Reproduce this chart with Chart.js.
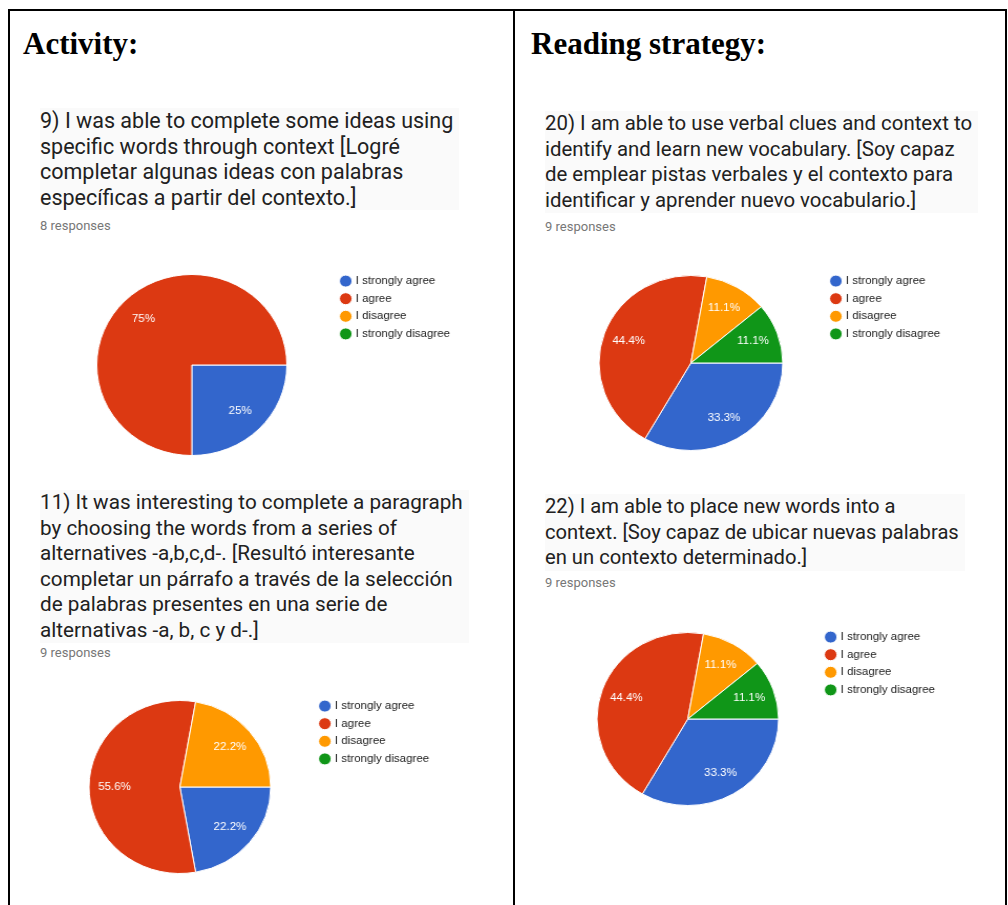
<!DOCTYPE html>
<html>
<head>
<meta charset="utf-8">
<title>Encuesta - Activity / Reading strategy</title>
<script src="https://cdn.jsdelivr.net/npm/chart.js@4"></script>
<style>
  body { margin: 0; background: #fff; }
  #page { position: relative; width: 1008px; height: 905px; overflow: hidden; font-family: Roboto, Arial, sans-serif; }
  .frame { position: absolute; left: 8px; top: 9px; width: 995px; height: 940px; border: 2px solid #000; }
  .divider { position: absolute; left: 513px; top: 9px; width: 2px; height: 920px; background: #000; }
  .col-head { position: absolute; top: 28px; font: bold 31px "Liberation Serif", "Times New Roman", serif; line-height: 31px; color: #000; white-space: nowrap; }
  .question { position: absolute; line-height: 25.5px; color: #212121; white-space: nowrap; background: #fafafa; padding-right: 6px; }
  .count { position: absolute; font-size: 13px; line-height: 15px; color: #777; }
  .chart-box { position: absolute; transform: scaleX(1.05); transform-origin: 0 0; }
  canvas { display: block; }
</style>
</head>
<body>
<div id="page">
  <div class="frame"></div>
  <div class="divider"></div>

  <div class="col-head" style="left:23px">Activity:</div>
  <div class="col-head" style="left:531px">Reading strategy:</div>

  <div class="question" style="left:40px; top:108px; font-size:21.5px">9) I was able to complete some ideas using<br>specific words through context [Logré<br>completar algunas ideas con palabras<br>específicas a partir del contexto.]</div>
  <div class="count" id="count-q9" style="left:40px; top:218px"></div>
  <div class="chart-box" id="box-q9"><canvas id="chart-q9"></canvas></div>

  <div class="question" style="left:545px; top:111px; font-size:20.4px">20) I am able to use verbal clues and context to<br>identify and learn new vocabulary. [Soy capaz<br>de emplear pistas verbales y el contexto para<br>identificar y aprender nuevo vocabulario.]</div>
  <div class="count" id="count-q20" style="left:545px; top:219px"></div>
  <div class="chart-box" id="box-q20"><canvas id="chart-q20"></canvas></div>

  <div class="question" style="left:40px; top:490px; font-size:20.7px">11) It was interesting to complete a paragraph<br>by choosing the words from a series of<br>alternatives -a,b,c,d-. [Resultó interesante<br>completar un párrafo a través de la selección<br>de palabras presentes en una serie de<br>alternativas -a, b, c y d-.]</div>
  <div class="count" id="count-q11" style="left:40px; top:645px"></div>
  <div class="chart-box" id="box-q11"><canvas id="chart-q11"></canvas></div>

  <div class="question" style="left:545px; top:494px; font-size:20.2px">22) I am able to place new words into a<br>context. [Soy capaz de ubicar nuevas palabras<br>en un contexto determinado.]</div>
  <div class="count" id="count-q22" style="left:545px; top:575px"></div>
  <div class="chart-box" id="box-q22"><canvas id="chart-q22"></canvas></div>
</div>

<script>
// answer options and how many students picked each one
const answerLabels = ['I strongly agree', 'I agree', 'I disagree', 'I strongly disagree'];
const sliceColors = ['#3366cc', '#dc3912', '#ff9900', '#109618'];

const q9Counts = [2, 6, 0, 0];
const q11Counts = [2, 5, 2, 0];
const q20Counts = [3, 4, 1, 1];
const q22Counts = [3, 4, 1, 1];

// legend column is clamped to this width so the pie area stays predictable
const LEGEND_W = 118;

// where each pie sits on the page (box left/top, pie area width, canvas height, pie radius)
const layouts = {
  q9:  { left: 49,  top: 269, area: 272, height: 192, radius: 90.5 },
  q20: { left: 557, top: 269, area: 255, height: 188, radius: 87.5 },
  q11: { left: 46,  top: 694, area: 255, height: 186, radius: 86.5 },
  q22: { left: 556, top: 625, area: 251, height: 188, radius: 86.5 }
};

function percentText(value, total) {
  return (Math.round(value / total * 1000) / 10) + '%';
}

// white percentage inside every slice that has answers
const sliceLabels = {
  id: 'sliceLabels',
  afterDatasetsDraw(chart) {
    const ctx = chart.ctx;
    const counts = chart.data.datasets[0].data;
    const total = counts.reduce((a, b) => a + b, 0);
    chart.getDatasetMeta(0).data.forEach((arc, i) => {
      if (!counts[i]) return;
      const p = arc.getProps(['x', 'y', 'startAngle', 'endAngle', 'outerRadius'], true);
      const mid = (p.startAngle + p.endAngle) / 2;
      const r = p.outerRadius * 0.72;
      ctx.save();
      ctx.fillStyle = '#fff';
      ctx.font = '11px Arial, "Liberation Sans", sans-serif';
      ctx.textAlign = 'center';
      ctx.textBaseline = 'middle';
      ctx.fillText(percentText(counts[i], total), p.x + Math.cos(mid) * r, p.y + Math.sin(mid) * r);
      ctx.restore();
    });
  }
};

function drawPie(key, counts) {
  const lay = layouts[key];
  const box = document.getElementById('box-' + key);
  box.style.left = lay.left + 'px';
  box.style.top = lay.top + 'px';
  const canvas = document.getElementById('chart-' + key);
  canvas.width = lay.area + LEGEND_W + 12;
  canvas.height = lay.height;

  const total = counts.reduce((a, b) => a + b, 0);
  document.getElementById('count-' + key).innerText = total + ' responses';

  new Chart(canvas.getContext('2d'), {
    type: 'pie',
    data: {
      labels: answerLabels,
      datasets: [{
        data: counts,
        backgroundColor: sliceColors,
        borderColor: '#fff',
        borderWidth: 1
      }]
    },
    options: {
      responsive: false,
      animation: false,
      rotation: 90,
      radius: lay.radius,
      layout: { padding: { left: 0, top: 0, bottom: 0, right: 12 } },
      plugins: {
        legend: {
          position: 'right',
          align: 'start',
          maxWidth: LEGEND_W,
          labels: {
            usePointStyle: true,
            pointStyle: 'circle',
            boxWidth: 8,
            boxHeight: 8.5,
            padding: 6.6,
            color: '#222',
            font: { family: 'Arial, "Liberation Sans", sans-serif', size: 11 }
          }
        },
        tooltip: { enabled: false }
      }
    },
    plugins: [sliceLabels]
  });
}

drawPie('q9', q9Counts);
drawPie('q20', q20Counts);
drawPie('q11', q11Counts);
drawPie('q22', q22Counts);
</script>
</body>
</html>
